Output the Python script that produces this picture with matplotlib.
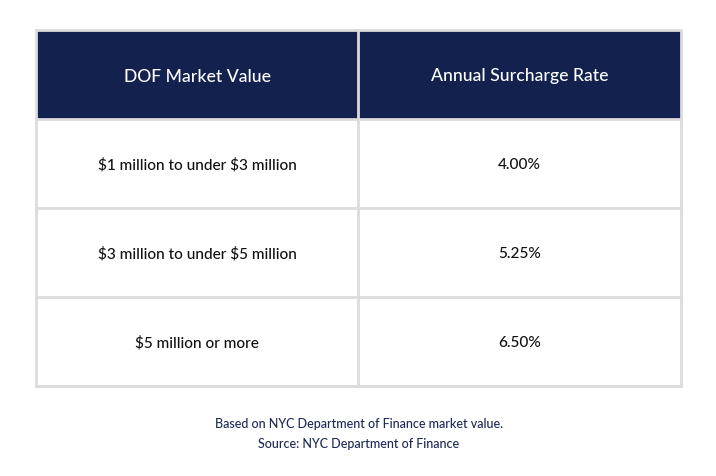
import matplotlib
matplotlib.use("Agg")
import matplotlib.pyplot as plt
from matplotlib.patches import Rectangle

headers = ["DOF Market Value", "Annual Surcharge Rate"]
market_values = ["$1 million to under $3 million",
                 "$3 million to under $5 million",
                 "$5 million or more"]
rates = ["4.00%", "5.25%", "6.50%"]
notes = ["Based on NYC Department of Finance market value.",
         "Source: NYC Department of Finance"]

plt.rcParams['font.family'] = ['Lato', 'DejaVu Sans']
plt.rcParams['text.parse_math'] = False

W, H = 716, 477
fig = plt.figure(figsize=(W / 100, H / 100), dpi=100)
ax = fig.add_axes([0, 0, 1, 1])
ax.set_xlim(0, W)
ax.set_ylim(H, 0)
ax.axis("off")

navy = "#13214f"
grid = "#dcdcdc"
left, right = 36, 681
mid = 358
top, head_bot = 31, 120
row_h = 89

ax.add_patch(Rectangle((left, top), right - left, head_bot - top,
                       facecolor=navy, edgecolor="none", zorder=1))
col_centers = [(left + mid) / 2, (mid + right) / 2]
for cx, h in zip(col_centers, headers):
    ax.text(cx, (top + head_bot) / 2 + 1, h, color="white", fontsize=12.7,
            fontweight="medium", ha="center", va="center", zorder=3)

rows = list(zip(market_values, rates))
bottom = head_bot + row_h * len(rows)
for i, (mv, r) in enumerate(rows):
    y0 = head_bot + i * row_h
    yc = y0 + row_h / 2 + 1
    ax.text(col_centers[0], yc, mv, color="#111111", fontsize=11.1,
            fontweight="medium", ha="center", va="center", zorder=3)
    ax.text(col_centers[1], yc, r, color="#111111", fontsize=11.1,
            fontweight="medium", ha="center", va="center", zorder=3)
    ax.plot([left, right], [y0 + row_h, y0 + row_h], color=grid, lw=2, zorder=2)

ax.plot([left, right, right, left, left], [top, top, bottom, bottom, top],
        color=grid, lw=2, zorder=2)
ax.plot([mid, mid], [top, bottom], color=grid, lw=2, zorder=2)
ax.plot([left, right], [head_bot, head_bot], color=grid, lw=2, zorder=2)

for k, n in enumerate(notes):
    ax.text(W / 2 + 1, 424 + k * 20, n, color="#1c2a55", fontsize=9,
            fontweight="medium", ha="center", va="center")

fig.savefig("out.png", dpi=100, facecolor="white")
